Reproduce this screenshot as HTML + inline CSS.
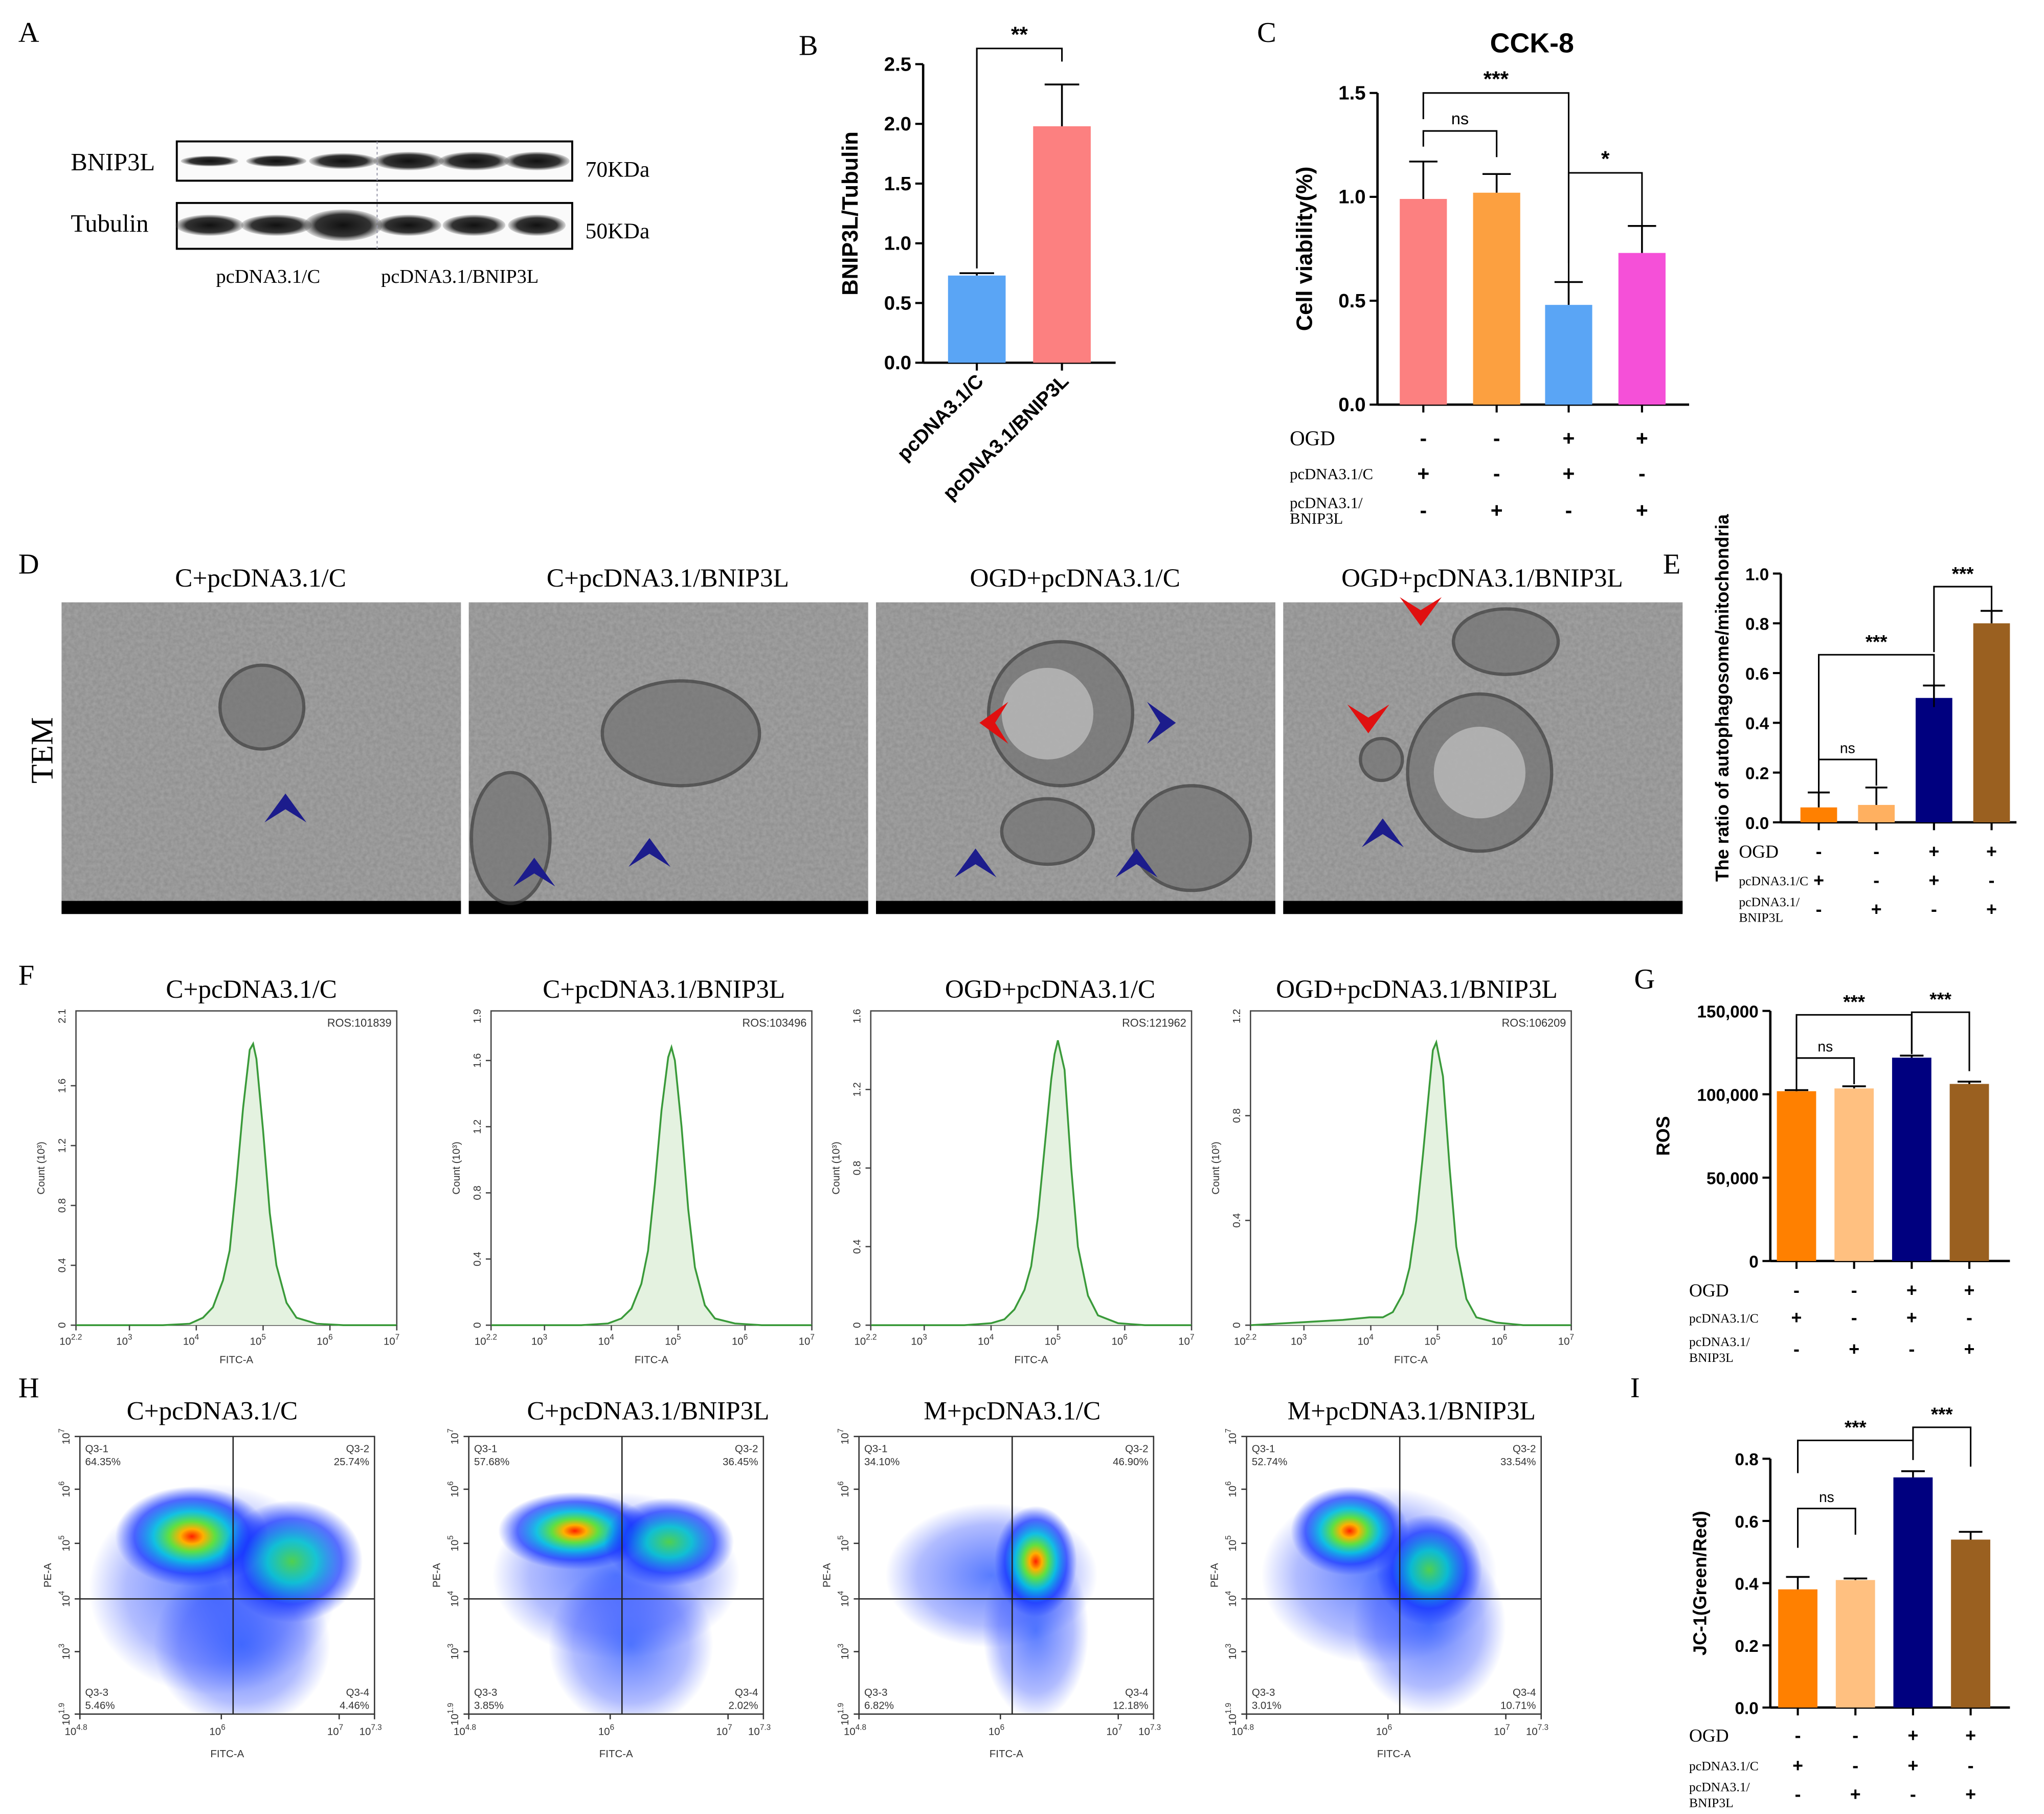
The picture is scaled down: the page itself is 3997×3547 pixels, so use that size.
<!DOCTYPE html>
<html><head><meta charset="utf-8">
<style>
html,body{margin:0;padding:0;background:#fff}
svg{display:block}
.serif{font-family:"Liberation Serif",serif}
.sans{font-family:"Liberation Sans",sans-serif}
</style></head>
<body>
<svg id="fig" width="3997" height="3547" viewBox="0 0 1561 1385.3" xmlns="http://www.w3.org/2000/svg">
<defs>
<radialGradient id="hot" cx="50%" cy="50%" r="50%">
<stop offset="0" stop-color="#ff2000"/><stop offset="0.15" stop-color="#ffb000"/><stop offset="0.3" stop-color="#60e040"/><stop offset="0.5" stop-color="#00c0e0" stop-opacity="0.9"/><stop offset="0.75" stop-color="#1030ff" stop-opacity="0.7"/><stop offset="1" stop-color="#1030ff" stop-opacity="0"/>
</radialGradient>
<radialGradient id="warm" cx="50%" cy="50%" r="50%">
<stop offset="0" stop-color="#50d050"/><stop offset="0.35" stop-color="#00c0d0" stop-opacity="0.9"/><stop offset="0.7" stop-color="#1030ff" stop-opacity="0.7"/><stop offset="1" stop-color="#1030ff" stop-opacity="0"/>
</radialGradient>
<radialGradient id="cold" cx="50%" cy="50%" r="50%">
<stop offset="0" stop-color="#2050ff" stop-opacity="0.75"/><stop offset="0.7" stop-color="#2040ff" stop-opacity="0.35"/><stop offset="1" stop-color="#2040ff" stop-opacity="0"/>
</radialGradient>
<radialGradient id="band" cx="50%" cy="50%" r="50%">
<stop offset="0" stop-color="#111"/><stop offset="0.7" stop-color="#333"/><stop offset="1" stop-color="#555" stop-opacity="0.2"/>
</radialGradient>
<filter id="noise" x="0" y="0" width="100%" height="100%">
<feTurbulence type="fractalNoise" baseFrequency="0.35" numOctaves="2" seed="3" result="n"/>
<feColorMatrix type="matrix" values="0 0 0 0 0.45  0 0 0 0 0.45  0 0 0 0 0.45  0 0 0 0.6 0" in="n" result="m"/>
<feComposite in="m" in2="SourceGraphic" operator="in" result="c"/>
<feMerge><feMergeNode in="SourceGraphic"/><feMergeNode in="c"/></feMerge>
</filter>
</defs>
<g id="root" class="sans"></g>
</svg>
<script>
// ---------- data ----------
const bCats=["pcDNA3.1/C","pcDNA3.1/BNIP3L"];
const bVals=[0.73,1.98];
const bErrs=[0.75,2.33];
const bTicks=[0,0.5,1.0,1.5,2.0,2.5];

const cCats=["C+pcDNA3.1/C","C+pcDNA3.1/BNIP3L","OGD+pcDNA3.1/C","OGD+pcDNA3.1/BNIP3L"];
const cVals=[0.99,1.02,0.48,0.73];
const cErrs=[1.17,1.11,0.59,0.86];
const cTicks=[0,0.5,1.0,1.5];

const eVals=[0.06,0.07,0.50,0.80];
const eErrs=[0.12,0.14,0.55,0.85];
const eTicks=[0,0.2,0.4,0.6,0.8,1.0];

const gVals=[101839,103496,121962,106209];
const gErrs=[102500,104800,123200,107600];
const gTicks=[0,50000,100000,150000];
const gTickLabels=["0","50,000","100,000","150,000"];

const iVals=[0.38,0.41,0.74,0.54];
const iErrs=[0.42,0.415,0.76,0.565];
const iTicks=[0,0.2,0.4,0.6,0.8];

const ogdSigns=["-","-","+","+"];
const ctrlSigns=["+","-","+","-"];
const bnipSigns=["-","+","-","+"];

const fTitles=["C+pcDNA3.1/C","C+pcDNA3.1/BNIP3L","OGD+pcDNA3.1/C","OGD+pcDNA3.1/BNIP3L"];
const fRos=["ROS:101839","ROS:103496","ROS:121962","ROS:106209"];
const fYMax=[2.1,1.9,1.6,1.2];
const fYTicks=[[0,0.4,0.8,1.2,1.6],[0,0.4,0.8,1.2,1.6],[0,0.4,0.8,1.2],[0,0.4,0.8]];
const fLogX=[2.2,3.5,3.9,4.1,4.25,4.4,4.5,4.6,4.7,4.8,4.85,4.9,5.0,5.1,5.2,5.35,5.5,5.8,6.2,7];
const fCounts=[
 [0,0,0.01,0.05,0.12,0.3,0.5,0.95,1.45,1.84,1.88,1.78,1.3,0.75,0.4,0.15,0.05,0.01,0,0],
 [0,0,0.01,0.04,0.1,0.25,0.45,0.85,1.3,1.62,1.68,1.6,1.2,0.7,0.35,0.12,0.04,0.01,0,0],
 [0,0,0.01,0.03,0.08,0.18,0.3,0.55,0.9,1.25,1.38,1.45,1.3,0.8,0.4,0.15,0.05,0.01,0,0],
 [0,0.02,0.03,0.03,0.05,0.12,0.22,0.4,0.65,0.92,1.05,1.08,0.95,0.6,0.3,0.1,0.03,0.01,0,0]];
const fShift=[0,0.05,0.1,0.08];

const hTitles=["C+pcDNA3.1/C","C+pcDNA3.1/BNIP3L","M+pcDNA3.1/C","M+pcDNA3.1/BNIP3L"];
const hQ1=["64.35%","57.68%","34.10%","52.74%"];
const hQ2=["25.74%","36.45%","46.90%","33.54%"];
const hQ3=["5.46%","3.85%","6.82%","3.01%"];
const hQ4=["4.46%","2.02%","12.18%","10.71%"];

// ---------- helpers ----------
const NS="http://www.w3.org/2000/svg";
const root=document.getElementById('root');
function mk(tag,attrs,parent){const e=document.createElementNS(NS,tag);for(const k in attrs)e.setAttribute(k,attrs[k]);(parent||root).appendChild(e);return e;}
function txt(s,x,y,size,attrs,parent){const t=mk('text',Object.assign({x:x,y:y,'font-size':size},attrs||{}),parent);t.textContent=s;return t;}
function grp(name){const g=mk('g',{},root);return g;}
function fmt(v){return v.toFixed(1);}

function barChart(opt){
 const g=grp(opt.name);
 const ys=v=>opt.y0-(v/opt.vmax)*(opt.y0-opt.y1);
 const ax=mk('line',{x1:opt.ax,y1:opt.y0,x2:opt.ax,y2:ys(opt.ticks[opt.ticks.length-1]),stroke:'#000','stroke-width':1.8},g);
 
 
 const xa=mk('line',{x1:opt.ax,y1:opt.y0,x2:opt.axEnd,y2:opt.y0,stroke:'#000','stroke-width':1.8},g);
 
 
 opt.ticks.forEach((t,i)=>{
  mk('line',{x1:opt.ax-6,y1:ys(t),x2:opt.ax,y2:ys(t),stroke:'#000','stroke-width':1.6},g);
  const lb=txt(opt.tickLabels?opt.tickLabels[i]:fmt(t),opt.ax-9,ys(t)+5,opt.fs,{'text-anchor':'end','font-weight':'bold'},g);
  
  
 });
 opt.vals.forEach((v,i)=>{
  const cx=opt.cx[i];
  const r=mk('rect',{x:cx-opt.bw/2,y:ys(v),width:opt.bw,height:opt.y0-ys(v),fill:opt.colors[i]},g);
  
  
  const e=mk('path',{d:`M${cx},${ys(v)}V${ys(opt.errs[i])}M${cx-opt.bw*0.3},${ys(opt.errs[i])}H${cx+opt.bw*0.3}`,stroke:'#000','stroke-width':1.4,fill:'none'},g);
  
  
  mk('line',{x1:cx,y1:opt.y0,x2:cx,y2:opt.y0+6,stroke:'#000','stroke-width':1.6},g);
 });
 const yl=txt(opt.ylabel,0,0,opt.lfs,{'text-anchor':'middle','font-weight':'bold',transform:`translate(${opt.ylx},${(opt.y0+ys(opt.ticks[opt.ticks.length-1]))/2}) rotate(-90)`},g);
 
 
 (opt.brackets||[]).forEach(b=>{
  const x1=opt.cx[b[0]],x2=opt.cx[b[1]],y=b[2];
  const p=mk('path',{d:`M${x1},${y+b[3]}V${y}H${x2}V${y+b[4]}`,stroke:'#000','stroke-width':1.2,fill:'none'},g);
  
  
  const s=txt(b[5],(x1+x2)/2,y-5,b[5]=='ns'?opt.fs*0.85:opt.fs*1.1,{'text-anchor':'middle','font-weight':b[5]=='ns'?'normal':'bold'},g);
  
  
 });
 if(opt.table){
  const T=opt.table;
  txt('OGD',T.lx,T.y[0]+5,T.fs1,{class:'serif'},g);
  txt('pcDNA3.1/C',T.lx,T.y[1]+4,T.fs2,{class:'serif'},g);
  txt('pcDNA3.1/',T.lx,T.y[2]-2,T.fs2,{class:'serif'},g);
  txt('BNIP3L',T.lx,T.y[2]+10,T.fs2,{class:'serif'},g);
  [ogdSigns,ctrlSigns,bnipSigns].forEach((row,ri)=>row.forEach((s,i)=>{
   const t=txt(s,opt.cx[i],T.y[ri]+5,T.fs1,{'text-anchor':'middle','font-weight':'bold'},g);
   
   
  }));
 }
 return g;
}

// ---------- panel letters ----------
[["A",14,32],["B",610,42],["C",960,32],["D",14,438],["E",1270,438],["F",14,752],["G",1248,755],["H",14,1067],["I",1245,1067]].forEach(l=>{
 const t=txt(l[0],l[1],l[2],22,{class:'serif'});
 
 
});

// ---------- Panel A: western blot ----------
(function(){
 const g=grp('western-blot');
 [[108,138,'BNIP3L','70KDa',123],[155,190,'Tubulin','50KDa',172]].forEach((r,ri)=>{
  mk('rect',{x:135,y:r[0],width:302,height:r[1]-r[0],fill:'#fafafa',stroke:'#000','stroke-width':1.5},g);
  const bx=[160,211,262,312,362,410];
  bx.forEach((x,i)=>{
   const w=ri==0?(i<3?[22,23,26][i]:[27,27,25][i-3]):(i==2?30:[26,27,0,25,24,22][i]);
   const h=ri==0?(i<3?[4,4.5,6][i]:7):(i==2?12:8);
   const b=mk('ellipse',{cx:x,cy:r[4],rx:w,ry:h,fill:'url(#band)'},g);
   
   
  });
  txt(r[2],54,r[0]+22,19,{class:'serif'},g);
  txt(r[3],447,r[0]+27,17,{class:'serif'},g);
 });
 mk('line',{x1:288,y1:108,x2:288,y2:190,stroke:'#99a','stroke-width':0.8,'stroke-dasharray':'2,2'},g);
 txt('pcDNA3.1/C',165,216,15,{class:'serif'},g);
 txt('pcDNA3.1/BNIP3L',291,216,15,{class:'serif'},g);
})();

// ---------- Panel B ----------
barChart({name:'bnip3l-tubulin-chart',ax:705,axEnd:852,y0:277,y1:49,vmax:2.5,ticks:bTicks,vals:bVals,errs:bErrs,cx:[746,811],bw:44,colors:['#5aa5f5','#fc8080'],fs:15,lfs:17,ylabel:'BNIP3L/Tubulin',ylx:655,brackets:[[0,1,37,168,10,'**']]});
bCats.forEach((c,i)=>{
 const t=txt(c,0,0,15,{'text-anchor':'end','font-weight':'bold',transform:`translate(${[752,817][i]},${292}) rotate(-45)`});
 
 
});

// ---------- Panel C ----------
(function(){
 const t=txt('CCK-8',1170,40,21,{'text-anchor':'middle','font-weight':'bold'});
 
 
})();
barChart({name:'cck8-chart',ax:1052,axEnd:1290,y0:309,y1:71,vmax:1.5,ticks:cTicks,vals:cVals,errs:cErrs,cx:[1087,1143,1198,1254],bw:36,colors:['#fc8080','#fca040','#5aa5f5','#f550d8'],fs:15,lfs:17,ylabel:'Cell viability(%)',ylx:1002,
 brackets:[[0,1,100,12,20,'ns'],[0,2,71,20,130,'***'],[2,3,132,90,40,'*']],
 table:{lx:985,y:[335,362,390],fs1:16,fs2:12}});

// ---------- Panel D: TEM ----------
(function(){
 const g=grp('tem-images');
 const xs=[47,358,669,980];
 const titles=["C+pcDNA3.1/C","C+pcDNA3.1/BNIP3L","OGD+pcDNA3.1/C","OGD+pcDNA3.1/BNIP3L"];
 xs.forEach((x,i)=>{
  const im=mk('rect',{x:x,y:460,width:305,height:238,fill:'#8c8c8c',filter:'url(#noise)'},g);
  
  
  mk('rect',{x:x,y:688,width:305,height:10,fill:'#000'},g);
  const t=txt(titles[i],x+152,448,20,{class:'serif','text-anchor':'middle'},g);
  
  
 });
 [[200,540,32,32],[390,640,30,50],[520,560,60,40],[810,545,55,55],[800,635,35,25],[910,640,45,40],[1130,590,55,60],[1150,490,40,25],[1055,580,16,16]].forEach(o=>{
  mk('ellipse',{cx:o[0],cy:o[1],rx:o[2],ry:o[3],fill:'#707070',stroke:'#333','stroke-width':2.5,opacity:0.65},g);
 });
 [[800,545,35],[1130,590,35]].forEach(o=>mk('circle',{cx:o[0],cy:o[1],r:o[2],fill:'#c4c4c4',opacity:0.7},g));
 const t=txt('TEM',0,0,24,{class:'serif','text-anchor':'middle',transform:'translate(40,573) rotate(-90)'},g);
 
 
 function arrow(x,y,ang,col){const a=mk('path',{d:'M0,0 L-16,-22 L0,-12 L16,-22 Z',fill:col,transform:`translate(${x},${y}) rotate(${ang})`},g);}
 arrow(218,606,180,'#1c1c8c');arrow(408,655,180,'#1c1c8c');arrow(496,640,180,'#1c1c8c');
 arrow(748,552,90,'#e01010');arrow(898,552,-90,'#1c1c8c');arrow(745,648,180,'#1c1c8c');arrow(868,648,180,'#1c1c8c');
 arrow(1085,478,0,'#e01010');arrow(1045,560,0,'#e01010');arrow(1056,625,180,'#1c1c8c');
})();

// ---------- Panel E ----------
barChart({name:'autophagosome-ratio-chart',ax:1360,axEnd:1540,y0:628,y1:438,vmax:1.0,ticks:eTicks,vals:eVals,errs:eErrs,cx:[1389,1433,1477,1521],bw:28,colors:['#ff8000','#ffb060','#00007f','#9a6020'],fs:13,lfs:14,ylabel:'The ratio of autophagosome/mitochondria',ylx:1320,
 brackets:[[0,1,580,30,20,'ns'],[0,2,500,100,40,'***'],[2,3,448,50,25,'***']],
 table:{lx:1328,y:[650,672,694],fs1:14,fs2:10}});

// ---------- Panel F: histograms ----------
(function(){
 const xs0=[58,375,665,955];
 fTitles.forEach((title,k)=>{
  const g=grp('ros-histogram-'+(k+1));
  const x0=xs0[k],x1=x0+245,y0=1012,y1=772;
  const xs=l=>x0+(l-2.2)/(7-2.2)*(x1-x0);
  const ys=v=>y0-v/fYMax[k]*(y0-y1);
  mk('rect',{x:x0,y:y1,width:x1-x0,height:y0-y1,fill:'none',stroke:'#444','stroke-width':1},g);
  let d='M'+xs(fLogX[0])+','+ys(fCounts[k][0]);
  fLogX.forEach((l,i)=>{d+=' L'+xs(Math.min(7,l+(i>0&&i<fLogX.length-1?fShift[k]:0))).toFixed(1)+','+ys(fCounts[k][i]).toFixed(1);});
  const area=mk('path',{d:d+' L'+xs(7)+','+y0+' L'+xs(2.2)+','+y0+' Z',fill:'#e4f2e0'},g);
  
  
  const line=mk('path',{d:d,fill:'none',stroke:'#3a9a3a','stroke-width':1.4},g);
  
  
  fYTicks[k].forEach(t=>{
   mk('line',{x1:x0-4,y1:ys(t),x2:x0,y2:ys(t),stroke:'#444'},g);
   txt(t==0?'0':t.toFixed(1),0,0,8,{'text-anchor':'middle',fill:'#333',transform:`translate(${x0-8},${ys(t)}) rotate(-90)`},g);
  });
  txt(String(fYMax[k]),0,0,8,{'text-anchor':'middle',fill:'#333',transform:`translate(${x0-8},${y1+4}) rotate(-90)`},g);
  [[2.2,'10',"2.2"],[3,'10',"3"],[4,'10',"4"],[5,'10',"5"],[6,'10',"6"],[7,'10',"7"]].forEach(t=>{
   mk('line',{x1:xs(t[0]),y1:y0,x2:xs(t[0]),y2:y0+4,stroke:'#444'},g);
   const tt=txt(t[1],xs(t[0])-4,y0+15,8,{'text-anchor':'middle',fill:'#333'},g);
   const ts=mk('tspan',{dy:-4,'font-size':6},tt);ts.textContent=t[2];
  });
  txt('FITC-A',(x0+x1)/2,y0+29,8,{'text-anchor':'middle',fill:'#333'},g);
  txt('Count (10³)',0,0,8,{'text-anchor':'middle',fill:'#333',transform:`translate(${x0-24},${(y0+y1)/2}) rotate(-90)`},g);
  const r=txt(fRos[k],x1-4,y1+12,8.5,{'text-anchor':'end',fill:'#333'},g);
  
  
  const tl=txt(title,[192,507,802,1082][k],762,20,{class:'serif','text-anchor':'middle'},g);
  
  
 });
})();

// ---------- Panel G ----------
barChart({name:'ros-bar-chart',ax:1352,axEnd:1535,y0:963,y1:772,vmax:150000,ticks:gTicks,tickLabels:gTickLabels,vals:gVals,errs:gErrs,cx:[1372,1416,1460,1504],bw:30,colors:['#ff8000','#ffc080','#00007f','#9a6020'],fs:13,lfs:14,ylabel:'ROS',ylx:1275,
 brackets:[[0,1,808,25,20,'ns'],[0,2,775,50,30,'***'],[2,3,773,30,45,'***']],
 table:{lx:1290,y:[985,1006,1030],fs1:14,fs2:10}});

// ---------- Panel H: scatter ----------
(function(){
 const xs0=[61,358,656,952];
 const blobs=[
  [[0.45,0.55,0.42,0.38,'cold'],[0.55,0.75,0.3,0.3,'cold'],[0.38,0.36,0.26,0.18,'hot'],[0.72,0.45,0.24,0.22,'warm']],
  [[0.5,0.5,0.42,0.3,'cold'],[0.55,0.75,0.28,0.3,'cold'],[0.36,0.34,0.26,0.14,'hot'],[0.68,0.38,0.22,0.16,'warm']],
  [[0.45,0.5,0.36,0.26,'cold'],[0.6,0.7,0.18,0.32,'cold'],[0.6,0.45,0.14,0.2,'hot']],
  [[0.45,0.5,0.4,0.32,'cold'],[0.62,0.68,0.26,0.32,'cold'],[0.35,0.34,0.2,0.16,'hot'],[0.62,0.48,0.18,0.2,'warm']]];
 hTitles.forEach((title,k)=>{
  const g=grp('mito-scatter-'+(k+1));
  const x0=xs0[k],w=225,y1=1097,h=212;
  const cp=mk('clipPath',{id:'hc'+k},g);
  mk('rect',{x:x0,y:y1,width:w,height:h},cp);
  const cg=mk('g',{'clip-path':`url(#hc${k})`},g);
  blobs[k].forEach(b=>{
   const e=mk('ellipse',{cx:x0+b[0]*w,cy:y1+b[1]*h,rx:b[2]*w,ry:b[3]*h,fill:`url(#${b[4]})`},cg);
   
   
  });
  mk('rect',{x:x0,y:y1,width:w,height:h,fill:'none',stroke:'#333','stroke-width':1},g);
  mk('line',{x1:x0+0.52*w,y1:y1,x2:x0+0.52*w,y2:y1+h,stroke:'#222','stroke-width':1},g);
  mk('line',{x1:x0,y1:y1+0.585*h,x2:x0+w,y2:y1+0.585*h,stroke:'#222','stroke-width':1},g);
  [['Q3-1',hQ1[k],x0+4,y1+12,'start'],['Q3-2',hQ2[k],x0+w-4,y1+12,'end'],['Q3-3',hQ3[k],x0+4,y1+h-14,'start'],['Q3-4',hQ4[k],x0+w-4,y1+h-14,'end']].forEach(q=>{
   txt(q[0],q[2],q[3],8,{'text-anchor':q[4],fill:'#333'},g);
   const v=txt(q[1],q[2],q[3]+10,8,{'text-anchor':q[4],fill:'#333'},g);
   
   
  });
  [['4.8',0],['6',0.48],['7',0.88],['7.3',1]].forEach(t=>{
   mk('line',{x1:x0+t[1]*w,y1:y1+h,x2:x0+t[1]*w,y2:y1+h+4,stroke:'#333'},g);
   const tt=txt('10',x0+t[1]*w-3,y1+h+16,8,{'text-anchor':'middle',fill:'#333'},g);
   const ts=mk('tspan',{dy:-4,'font-size':6},tt);ts.textContent=t[0];
  });
  [['7',0],['6',0.19],['5',0.385],['4',0.585],['3',0.775],['1.9',1]].forEach(t=>{
   mk('line',{x1:x0-4,y1:y1+t[1]*h,x2:x0,y2:y1+t[1]*h,stroke:'#333'},g);
   const tt=txt('10',0,0,8,{'text-anchor':'middle',fill:'#333',transform:`translate(${x0-8},${y1+t[1]*h}) rotate(-90)`},g);
   const ts=mk('tspan',{dy:-4,'font-size':6},tt);ts.textContent=t[0];
  });
  txt('FITC-A',x0+w*0.5,y1+h+33,8,{'text-anchor':'middle',fill:'#333'},g);
  txt('PE-A',0,0,8,{'text-anchor':'middle',fill:'#333',transform:`translate(${x0-22},${y1+h*0.5}) rotate(-90)`},g);
  const tl=txt(title,[162,495,773,1078][k],1084,20,{class:'serif','text-anchor':'middle'},g);
  
  
 });
})();

// ---------- Panel I ----------
barChart({name:'jc1-chart',ax:1352,axEnd:1535,y0:1304,y1:1114,vmax:0.8,ticks:iTicks,vals:iVals,errs:iErrs,cx:[1373,1417,1461,1505],bw:30,colors:['#ff8000','#ffc080','#00007f','#9a6020'],fs:13,lfs:14,ylabel:'JC-1(Green/Red)',ylx:1303,
 brackets:[[0,1,1152,30,20,'ns'],[0,2,1100,25,15,'***'],[2,3,1090,10,30,'***']],
 table:{lx:1290,y:[1325,1348,1370],fs1:14,fs2:10}});
</script>
</body></html>
